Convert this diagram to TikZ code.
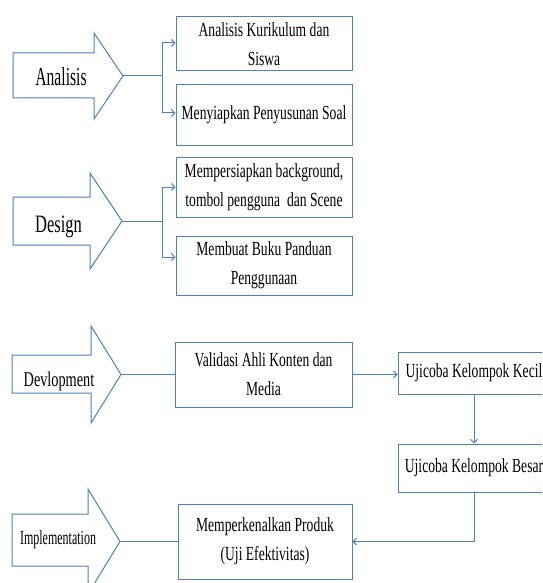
\documentclass[tikz,border=0pt]{standalone}
\usepackage{fontspec}
\setmainfont{Liberation Serif}
\newfontfamily\boxfont[FakeStretch=0.68]{Liberation Serif}
\newfontfamily\labfontA[FakeStretch=0.60]{Liberation Serif}
\newfontfamily\labfontB[FakeStretch=0.66]{Liberation Serif}
\usetikzlibrary{arrows.meta,calc}
\definecolor{wblue}{RGB}{79,129,189}
\tikzset{
  conn/.style={draw=wblue, line width=1pt},
  tipped/.style={-{Straight Barb[length=3.5pt,width=7pt]}},
  bigarrow/.style={draw=wblue, fill=white, line width=1pt, line join=miter},
  stepbox/.style={draw=wblue, line width=1pt, fill=white, inner sep=0pt, align=center,
                  font=\boxfont\fontsize{20}{29}\selectfont},
  lab/.style={inner sep=0pt, anchor=base, text=black}
}
\begin{document}
\begin{tikzpicture}[x=1pt,y=-1pt]
\clip (0,0) rectangle (542,583);
\fill[white] (0,0) rectangle (542,583);

% ---- Analisis ----
\draw[bigarrow] (13,53) -- (94,53) -- (94,33) -- (123,76) -- (94,119) -- (94,98) -- (13,98) -- cycle;
\node[lab, font=\labfontA\fontsize{26}{30}\selectfont] (lA) at (61,86) {Analisis};
\coordinate (tA) at (123,76);
\coordinate (jA) at (162,76);
\node[stepbox, minimum width=176pt, minimum height=54pt] (b1) at (264,44) {Analisis Kurikulum dan\\Siswa};
\node[stepbox, minimum width=176pt, minimum height=60pt] (b2) at (264,115) {Menyiapkan Penyusunan Soal};
\draw[conn] (tA) -- (jA);
\draw[conn,tipped] (jA) |- ([yshift=1pt]b1.west);
\draw[conn,tipped] (jA) |- ([yshift=2pt]b2.west);

% ---- Design ----
\draw[bigarrow] (13,197) -- (90,197) -- (90,173) -- (122,221) -- (90,269) -- (90,245) -- (13,245) -- cycle;
\node[lab, font=\labfontB\fontsize{25}{30}\selectfont] (lD) at (58.5,232) {Design};
\coordinate (tD) at (122,221);
\coordinate (jD) at (162,221);
\node[stepbox, minimum width=176pt, minimum height=60pt] (b3) at (264,187) {Mempersiapkan background,\\tombol pengguna\ \ dan Scene};
\node[stepbox, minimum width=176pt, minimum height=59pt] (b4) at (264,265.5) {Membuat Buku Panduan\\Penggunaan};
\draw[conn] (tD) -- (jD);
\draw[conn,tipped] (jD) |- (b3.west);
\draw[conn,tipped] (jD) |- ([yshift=8.5pt]b4.west);

% ---- Devlopment ----
\draw[bigarrow] (12,355) -- (91,355) -- (91,326) -- (121,374.5) -- (91,423) -- (91,393) -- (12,393) -- cycle;
\node[lab, font=\boxfont\fontsize{21}{26}\selectfont] (lV) at (59,386) {Devlopment};
\coordinate (tV) at (121,374.5);
\node[stepbox, minimum width=177pt, minimum height=65pt] (bV) at (263.5,374.5) {Validasi Ahli Konten dan\\Media};
\node[stepbox, minimum width=152pt, minimum height=42pt] (bK) at (474,373) {Ujicoba Kelompok Kecil};
\node[stepbox, minimum width=152pt, minimum height=48pt] (bB) at (474,468) {Ujicoba Kelompok Besar};
\node[stepbox, minimum width=174pt, minimum height=75pt] (bM) at (265,541.5) {Memperkenalkan Produk\\(Uji Efektivitas)};
\draw[conn] (tV) -- (bV.west);
\draw[conn,tipped] (bV.east) -- (bV.east -| bK.west);
\draw[conn,tipped] (bK.south) -- (bB.north);
\draw[conn,tipped] (bB.south) |- (bM.east);

% ---- Implementation ----
\draw[bigarrow] (12,514) -- (88,514) -- (88,489) -- (120,541.5) -- (88,594) -- (88,566) -- (12,566) -- cycle;
\node[lab, font=\labfontA\fontsize{20}{24}\selectfont] (lI) at (58,544) {Implementation};
\coordinate (tI) at (120,541.5);
\draw[conn] (tI) -- (bM.west);
\end{tikzpicture}
\end{document}
